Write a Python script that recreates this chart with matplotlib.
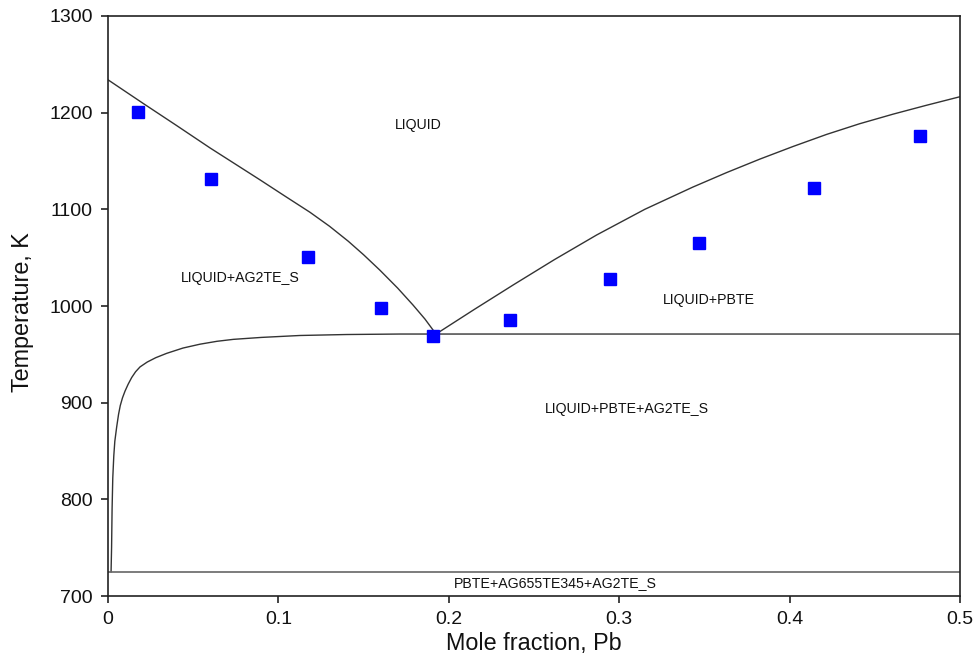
import matplotlib
matplotlib.use("Agg")
import matplotlib.pyplot as plt
from matplotlib import font_manager

# ---------------- data ----------------
# experimental points (mole fraction Pb, temperature K)
exp_x = [0.0174, 0.0603, 0.1176, 0.1602, 0.1905, 0.2359, 0.2944, 0.3470, 0.4145, 0.4763]
exp_T = [1201, 1131, 1051, 998, 969, 986, 1028, 1065, 1122, 1176]

# liquidus, AG2TE_S side
liqL_x = [0.0, 0.0207, 0.040, 0.0599, 0.075, 0.0892, 0.104, 0.1185, 0.130,
          0.141, 0.150, 0.1596, 0.170, 0.1790, 0.186, 0.1925]
liqL_T = [1234, 1209.5, 1187, 1163.5, 1146.5, 1130.5, 1113.5, 1097, 1082.5,
          1067, 1053, 1037, 1018.5, 1001, 986.5, 971]

# liquidus, PBTE side
liqR_x = [0.1925, 0.215, 0.2380, 0.262, 0.2868, 0.315, 0.3432, 0.363, 0.3826,
          0.402, 0.4217, 0.441, 0.4608, 0.480, 0.5]
liqR_T = [971, 996.5, 1022, 1048, 1073.5, 1100, 1123, 1138, 1152,
          1165, 1177.5, 1188.5, 1198.5, 1207.5, 1216.5]

# lower boundary of LIQUID+PBTE+AG2TE_S and eutectic line
sol_x = [0.0018, 0.0021, 0.0024, 0.0028, 0.0034, 0.0040, 0.0051, 0.0062, 0.0072,
         0.0085, 0.0100, 0.0118, 0.0139, 0.0162, 0.0188, 0.0230, 0.0280, 0.0344,
         0.0440, 0.0540, 0.0640, 0.0736, 0.0900, 0.1127, 0.1400, 0.1714, 0.5]
sol_T = [725, 750, 790, 822, 845, 860, 875, 888, 897,
         905, 912, 919, 926, 932, 937, 942, 946.5, 951,
         956.5, 960.5, 963.5, 965.5, 967.5, 969.5, 970.5, 971, 971]

# invariant line
inv_x = [0.0, 0.5]
inv_T = [725, 725]

region_labels = ["LIQUID", "LIQUID+AG2TE_S", "LIQUID+PBTE",
                 "LIQUID+PBTE+AG2TE_S", "PBTE+AG655TE345+AG2TE_S"]
region_x = [0.1821, 0.0775, 0.3527, 0.3046, 0.2625]
region_T = [1187, 1029, 1006, 893.5, 713]

xticks = [0, 0.1, 0.2, 0.3, 0.4, 0.5]
xticklabels = ["0", "0.1", "0.2", "0.3", "0.4", "0.5"]
yticks = [700, 800, 900, 1000, 1100, 1200, 1300]

# ---------------- style ----------------
names = {f.name for f in font_manager.fontManager.ttflist}
fam = "Liberation Sans" if "Liberation Sans" in names else "DejaVu Sans"
plt.rcParams["font.family"] = [fam, "DejaVu Sans"]

fig = plt.figure(figsize=(9.77, 6.64), dpi=100)
ax = fig.add_axes([108 / 977, 68 / 664, 852 / 977, 580 / 664])

line_col = "#333333"
ax.plot(liqL_x, liqL_T, color=line_col, lw=1.0)
ax.plot(liqR_x, liqR_T, color=line_col, lw=1.0)
ax.plot(sol_x, sol_T, color=line_col, lw=1.0)
ax.plot(inv_x, inv_T, color="#666666", lw=1.2)

ax.plot(exp_x, exp_T, linestyle="none", marker="s", markersize=8.2,
        markerfacecolor="#0000ff", markeredgecolor="#0000ff", zorder=5)

for lab, x, t in zip(region_labels, region_x, region_T):
    ax.text(x, t, lab, fontsize=10.2, ha="center", va="center", color="#111111")

ax.set_xlim(0, 0.5)
ax.set_ylim(700, 1300)
ax.set_xticks(xticks)
ax.set_xticklabels(xticklabels)
ax.set_yticks(yticks)

ax.tick_params(axis="both", direction="out", length=5, width=1.2,
               labelsize=14, color="#222222", labelcolor="#111111")
ax.tick_params(axis="x", pad=5.5)
ax.tick_params(axis="y", pad=6)
ax.tick_params(top=False, right=False)
for sp in ax.spines.values():
    sp.set_linewidth(1.2)
    sp.set_color("#222222")

ax.set_xlabel("Mole fraction, Pb", fontsize=16.8, color="#111111")
ax.set_ylabel("Temperature, K", fontsize=16.8, color="#111111")
ax.xaxis.set_label_coords(0.5, -0.062)
ax.yaxis.set_label_coords(-0.087, 0.49)

fig.savefig("out.png", dpi=100)
